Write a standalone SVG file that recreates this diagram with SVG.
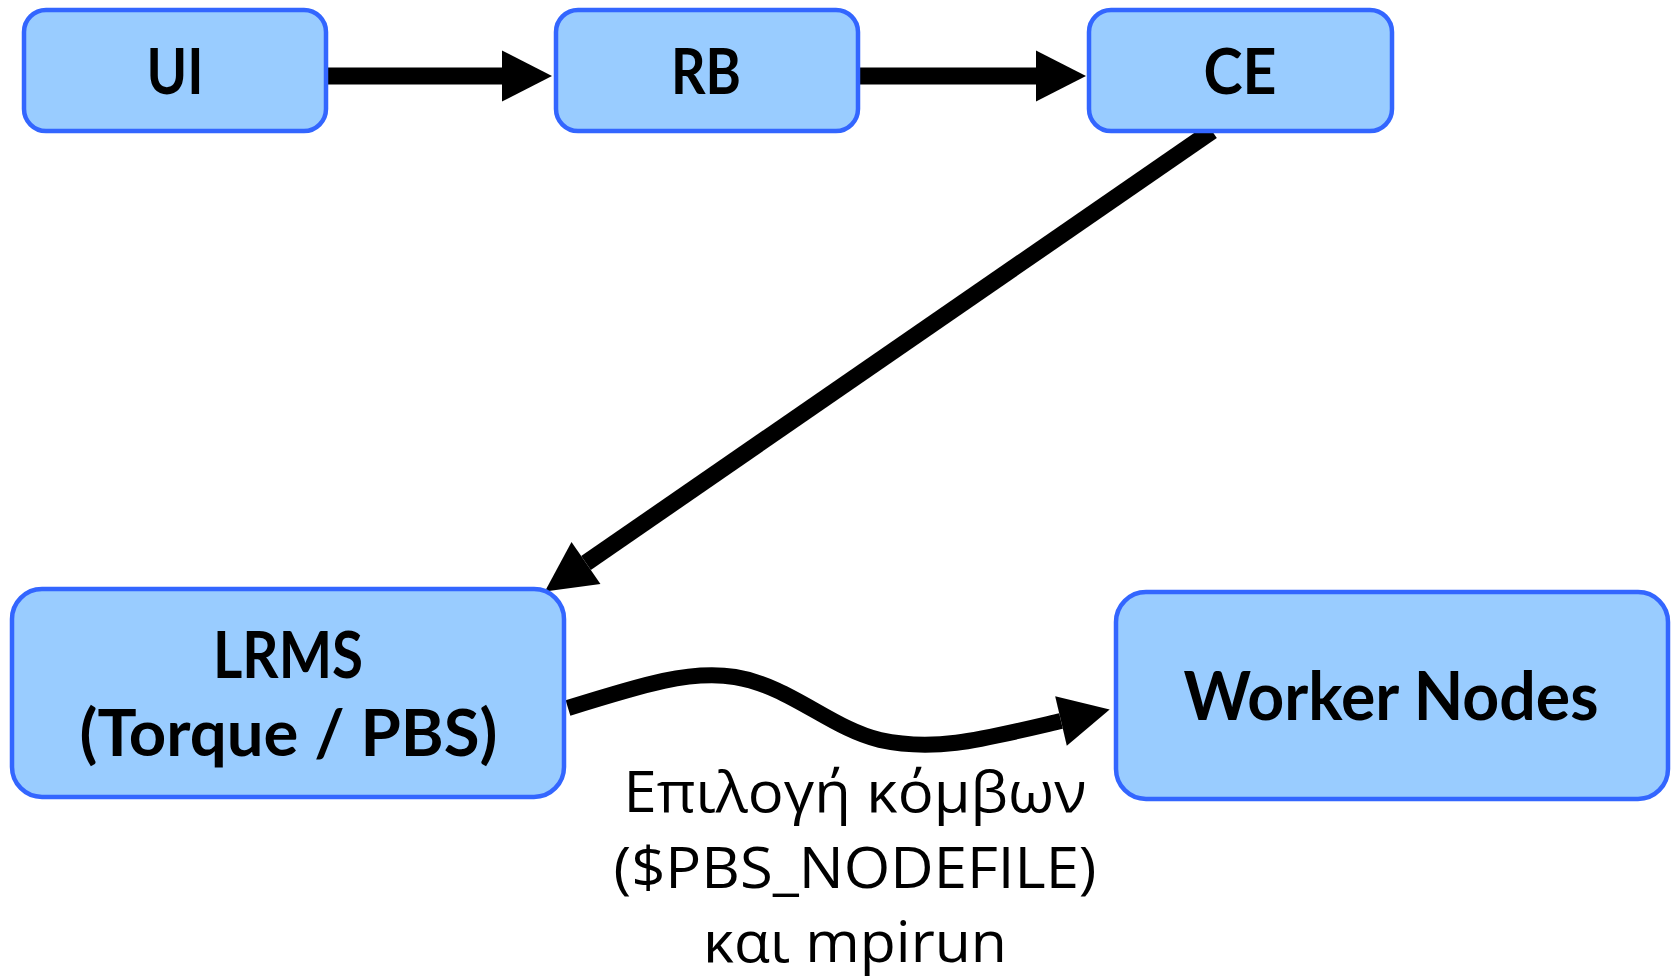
<svg xmlns="http://www.w3.org/2000/svg" width="1675" height="978" viewBox="0 0 1675 978">
<style>
.box{fill:#99ccff;stroke:#3366ff;stroke-width:4.5}
.t{font-family:Lato,"Open Sans","DejaVu Sans",sans-serif;font-weight:bold;fill:#000;text-anchor:middle}
.lbl{font-family:"Open Sans","Noto Sans","DejaVu Sans",sans-serif;font-size:57px;fill:#000;text-anchor:middle}
.c{fill:none;stroke:#000;stroke-linecap:butt}
</style>
<defs>
<marker id="ah" markerUnits="userSpaceOnUse" markerWidth="52" markerHeight="52" refX="0" refY="25.5" orient="auto" overflow="visible">
<path d="M0,0 L50,25.5 L0,51 Z" fill="#000"/>
</marker>
</defs>
<g id="connectors">
<path class="c" d="M327,76 L502,76" stroke-width="17" marker-end="url(#ah)"/>
<path class="c" d="M859,76 L1036,76" stroke-width="17" marker-end="url(#ah)"/>
<path class="c" d="M1212,131 L586,563" stroke-width="17" marker-end="url(#ah)"/>
<path class="c" d="M568,708 C645,684 690,670 735,677 C790,686 830,728 880,740 C935,752 980,740 1061,721" stroke-width="16" marker-end="url(#ah)"/>
<g id="edge-label">
<text class="lbl" x="855" y="812" textLength="463" lengthAdjust="spacingAndGlyphs">Επιλογή κόμβων</text>
<text class="lbl" x="855" y="888" textLength="483" lengthAdjust="spacingAndGlyphs">($PBS_NODEFILE)</text>
<text class="lbl" x="855" y="962" textLength="304" lengthAdjust="spacingAndGlyphs">και mpirun</text>
</g>
</g>
<g id="UI">
<rect class="box" x="24" y="10" width="302" height="121" rx="22"/>
<text class="t" x="175" y="94" font-size="64" textLength="57" lengthAdjust="spacingAndGlyphs">UI</text>
</g>
<g id="RB">
<rect class="box" x="556" y="10" width="302" height="121" rx="22"/>
<text class="t" x="706" y="94" font-size="64" textLength="70" lengthAdjust="spacingAndGlyphs">RB</text>
</g>
<g id="CE">
<rect class="box" x="1089" y="10" width="303" height="121" rx="22"/>
<text class="t" x="1240" y="94" font-size="64" textLength="73" lengthAdjust="spacingAndGlyphs">CE</text>
</g>
<g id="LRMS">
<rect class="box" x="12" y="589" width="552" height="208" rx="30"/>
<text class="t" x="288" y="678" font-size="65" textLength="150" lengthAdjust="spacingAndGlyphs">LRMS</text>
<text class="t" x="288.5" y="756" font-size="65" textLength="418" lengthAdjust="spacingAndGlyphs">(Torque / PBS)</text>
</g>
<g id="WorkerNodes">
<rect class="box" x="1116" y="592" width="552" height="207" rx="30"/>
<text class="t" x="1391" y="720" font-size="67" textLength="415" lengthAdjust="spacingAndGlyphs">Worker Nodes</text>
</g>
</svg>
